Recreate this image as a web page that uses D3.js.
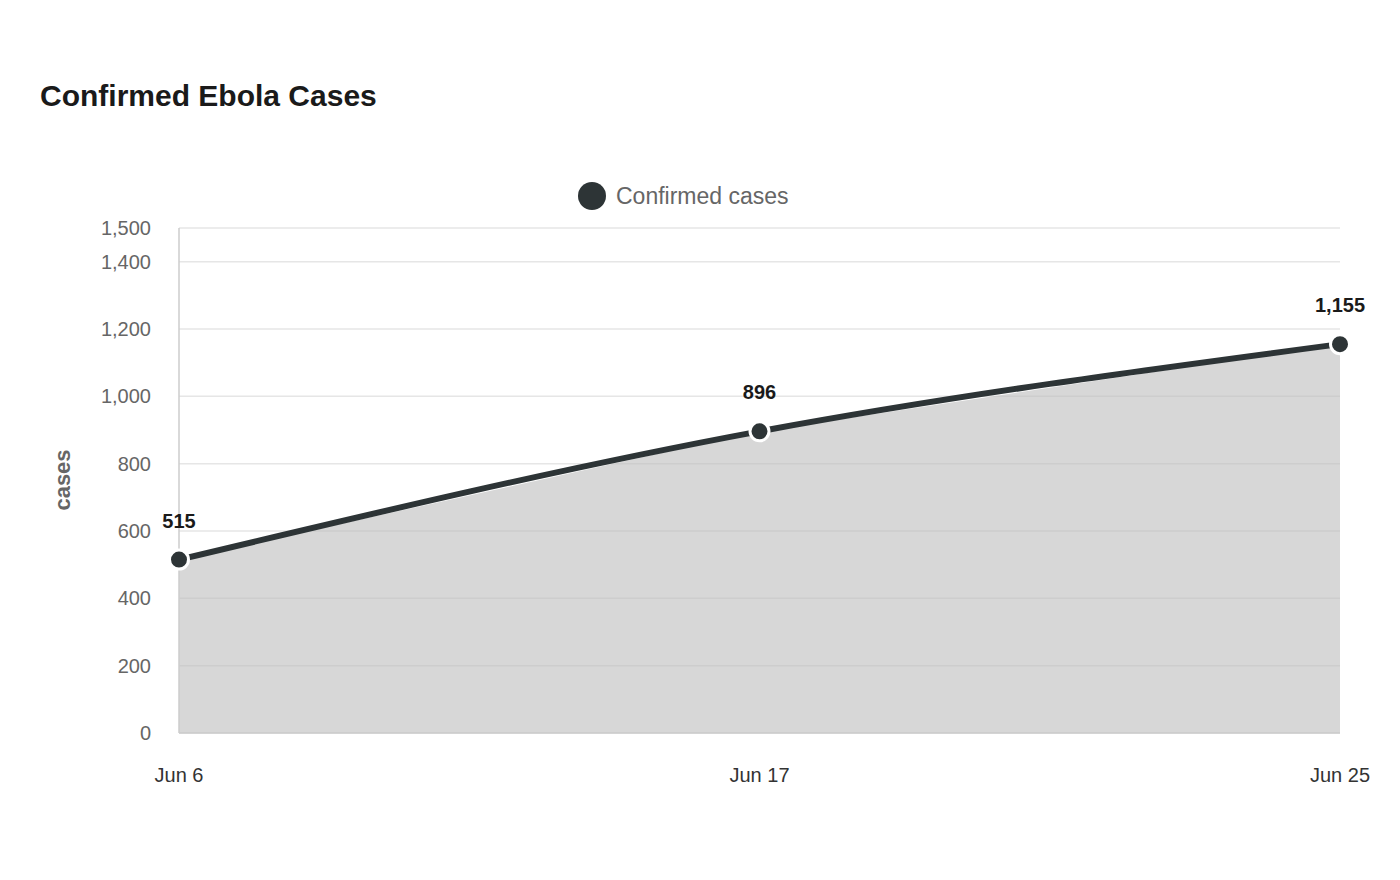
<!DOCTYPE html>
<html><head><meta charset="utf-8">
<script src="https://cdn.jsdelivr.net/npm/d3@7"></script>
<style>body{margin:0;background:#fff;font-family:"Liberation Sans",Arial,sans-serif}</style>
</head><body><svg id="chart" width="1400" height="880"></svg>
<script>
// chart data
const dates = ["Jun 6", "Jun 17", "Jun 25"];
const cases = [515, 896, 1155];
const yTicks = [0, 200, 400, 600, 800, 1000, 1200, 1400, 1500];

const svg = d3.select("#chart");
const x = d3.scalePoint().domain(dates).range([179, 1340]);
const y = d3.scaleLinear().domain([0, 1500]).range([733, 228]);
const fmt = d3.format(",");

svg.append("text").attr("x", 40).attr("y", 106).attr("font-size", 30)
  .attr("font-weight", "bold").attr("fill", "#1a1a1a").text("Confirmed Ebola Cases");

// grid
svg.append("g").selectAll("line").data(yTicks).join("line")
  .attr("x1", 179).attr("x2", 1340).attr("y1", d => y(d)).attr("y2", d => y(d))
  .attr("stroke", "#e6e6e6").attr("stroke-width", 1.5);
svg.append("g").selectAll("text").data(yTicks).join("text")
  .attr("x", 151).attr("y", d => y(d) + 7).attr("text-anchor", "end")
  .attr("font-size", 20).attr("fill", "#666").text(fmt);

// area + line
const data = dates.map((d, i) => ({ d, v: cases[i] }));
svg.append("path").datum(data)
  .attr("d", d3.area().x(p => x(p.d)).y0(y(0)).y1(p => y(p.v)))
  .attr("fill", "#bdbdbd").attr("opacity", 0.6);
svg.append("line").attr("x1", 179).attr("x2", 179).attr("y1", 228).attr("y2", 733)
  .attr("stroke", "#ccc").attr("stroke-width", 1.5);
svg.append("line").attr("x1", 179).attr("x2", 1340).attr("y1", 733).attr("y2", 733)
  .attr("stroke", "#ccc").attr("stroke-width", 1.5);
svg.append("path").datum(data)
  .attr("d", d3.line().x(p => x(p.d)).y(p => y(p.v)).curve(d3.curveMonotoneX))
  .attr("fill", "none").attr("stroke", "#2d3436").attr("stroke-width", 6);
svg.append("g").selectAll("circle").data(data).join("circle")
  .attr("cx", p => x(p.d)).attr("cy", p => y(p.v)).attr("r", 9.5)
  .attr("fill", "#2d3436").attr("stroke", "#fff").attr("stroke-width", 3);
svg.append("g").selectAll("text").data(data).join("text")
  .attr("x", p => x(p.d)).attr("y", p => y(p.v) - 32).attr("text-anchor", "middle")
  .attr("font-size", 20).attr("font-weight", "bold").attr("fill", "#1a1a1a").text(p => fmt(p.v));

// x labels
svg.append("g").selectAll("text").data(dates).join("text")
  .attr("x", d => x(d)).attr("y", 782).attr("text-anchor", "middle")
  .attr("font-size", 20).attr("fill", "#333").text(d => d);

// axis title
svg.append("text").attr("transform", "translate(70,480) rotate(-90)")
  .attr("text-anchor", "middle").attr("font-size", 22).attr("font-weight", "bold")
  .attr("fill", "#666").text("cases");

// legend
svg.append("circle").attr("cx", 592).attr("cy", 196).attr("r", 14).attr("fill", "#2d3436");
svg.append("text").attr("x", 616).attr("y", 204).attr("font-size", 23)
  .attr("fill", "#666").text("Confirmed cases");
</script></body></html>
